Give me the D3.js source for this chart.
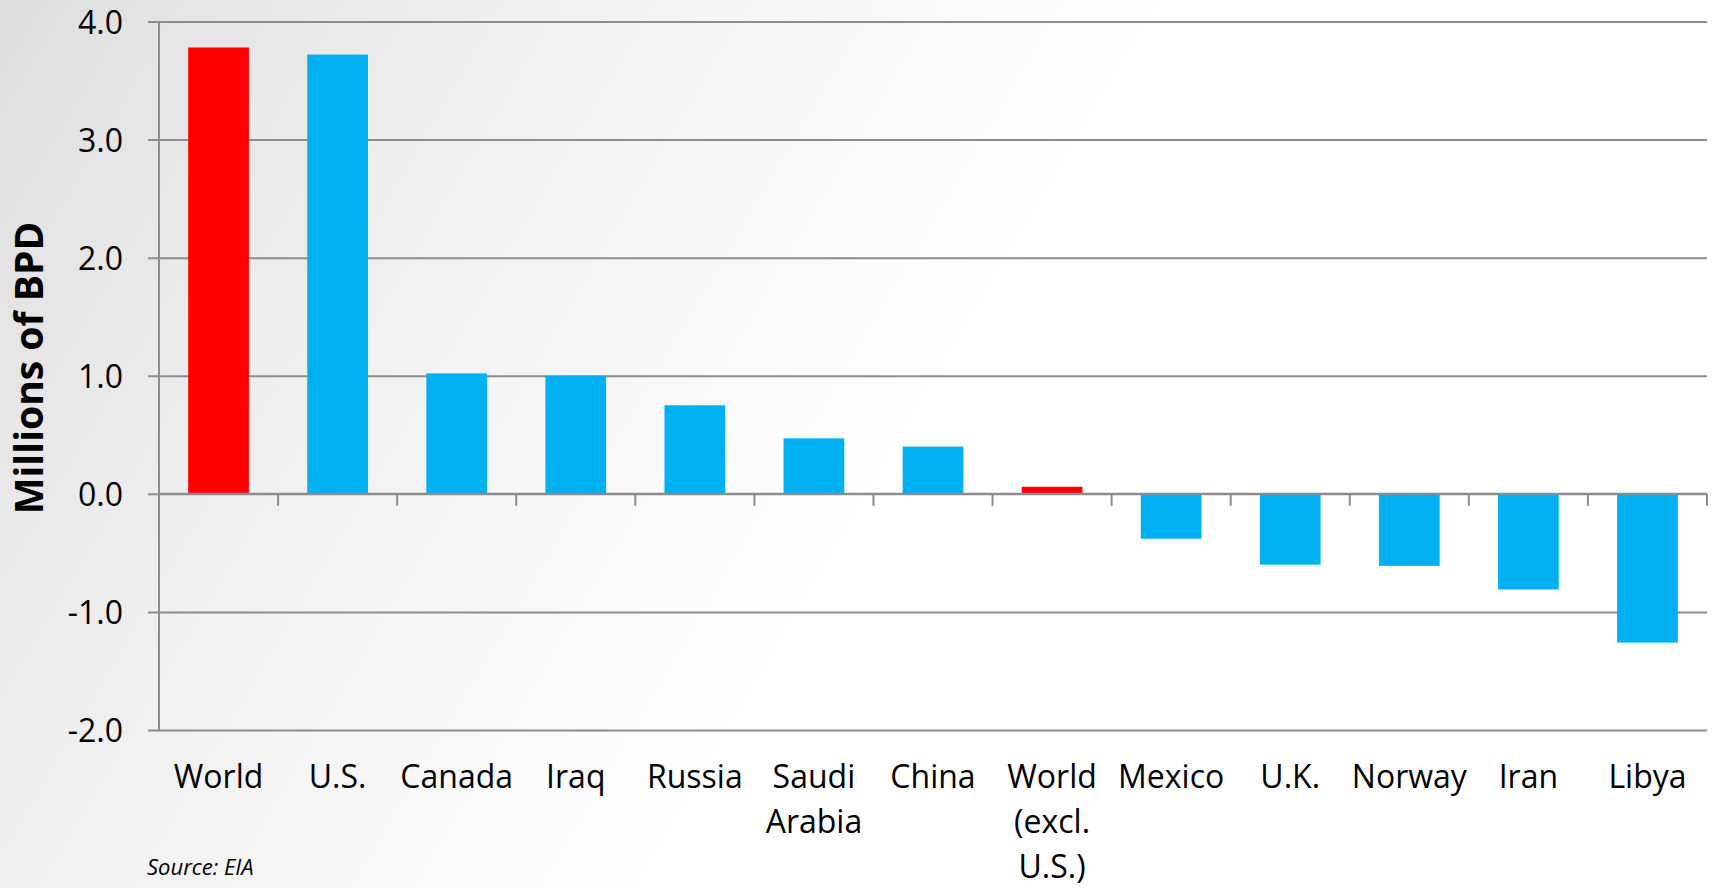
<!DOCTYPE html>
<html>
<head>
<meta charset="utf-8">
<script src="https://cdn.jsdelivr.net/npm/d3@7"></script>
<style>
  html, body { margin: 0; padding: 0; background: #fff; }
  svg { display: block; }
</style>
</head>
<body>
<svg id="chart" width="1715" height="888"></svg>
<script>
// Change in crude oil production, millions of barrels per day
const categories = ["World", "U.S.", "Canada", "Iraq", "Russia", "Saudi Arabia", "China",
                    "World (excl. U.S.)", "Mexico", "U.K.", "Norway", "Iran", "Libya"];
const values = [3.78, 3.72, 1.02, 1.00, 0.75, 0.47, 0.40, 0.06, -0.38, -0.60, -0.61, -0.81, -1.26];
const highlighted = ["World", "World (excl. U.S.)"];
const yTicks = [-2, -1, 0, 1, 2, 3, 4];
const yTitle = "Millions of BPD";
const sourceNote = "Source: EIA";

const W = 1715, H = 888;
const margin = { left: 159, right: 8, top: 21.5, bottom: 158 };
const font = "'Open Sans', 'DejaVu Sans', sans-serif";
const gridColor = "#8c8c8c";

const svg = d3.select("#chart");

// soft diagonal backdrop
const defs = svg.append("defs");
const grad = defs.append("linearGradient")
  .attr("id", "bg").attr("gradientUnits", "userSpaceOnUse")
  .attr("x1", 0).attr("y1", 0).attr("x2", 1100).attr("y2", 650);
grad.append("stop").attr("offset", 0).attr("stop-color", "#dedede");
grad.append("stop").attr("offset", 0.35).attr("stop-color", "#efefef");
grad.append("stop").attr("offset", 0.8).attr("stop-color", "#ffffff");
grad.append("stop").attr("offset", 1).attr("stop-color", "#ffffff");
svg.append("rect").attr("width", W).attr("height", H).attr("fill", "url(#bg)");

const x = d3.scaleBand()
  .domain(categories)
  .range([margin.left, W - margin.right])
  .padding(0);

const y = d3.scaleLinear()
  .domain([d3.min(yTicks), d3.max(yTicks)])
  .range([H - margin.bottom, margin.top]);

// one decimal, plain hyphen for negatives
const fmt = d => d.toFixed(1);

// horizontal gridlines with outside ticks
const yAxis = d3.axisLeft(y)
  .tickValues(yTicks)
  .tickSize(-(W - margin.right - margin.left))
  .tickSizeOuter(0)
  .tickFormat(fmt);

const gy = svg.append("g")
  .attr("transform", `translate(${margin.left},0)`)
  .call(yAxis);
gy.select(".domain").remove();
gy.selectAll(".tick line")
  .attr("x1", -11)
  .attr("stroke", gridColor).attr("stroke-width", 2);
gy.selectAll(".tick text")
  .attr("x", -36)
  .attr("dy", "0.36em")
  .attr("font-family", font).attr("font-size", 32).attr("fill", "#000");

// vertical axis line
svg.append("line")
  .attr("x1", margin.left).attr("x2", margin.left)
  .attr("y1", y(d3.max(yTicks))).attr("y2", y(d3.min(yTicks)))
  .attr("stroke", gridColor).attr("stroke-width", 2);

// bars
const barFrac = 0.51;
const bw = x.bandwidth() * barFrac;
svg.append("g").selectAll("rect")
  .data(categories.map((c, i) => ({ c, v: values[i] })))
  .join("rect")
  .attr("x", d => x(d.c) + (x.bandwidth() - bw) / 2)
  .attr("width", bw)
  .attr("y", d => y(Math.max(0, d.v)))
  .attr("height", d => Math.abs(y(d.v) - y(0)))
  .attr("fill", d => highlighted.includes(d.c) ? "#ff0000" : "#00b0f0");

// category axis along zero with ticks at band boundaries
const y0 = y(0);
svg.append("line")
  .attr("x1", margin.left).attr("x2", W - margin.right)
  .attr("y1", y0).attr("y2", y0)
  .attr("stroke", gridColor).attr("stroke-width", 2);
svg.append("g").selectAll("line")
  .data(categories.slice(1).map(c => x(c)).concat([W - margin.right]))
  .join("line")
  .attr("x1", d => d).attr("x2", d => d)
  .attr("y1", y0).attr("y2", y0 + 12)
  .attr("stroke", gridColor).attr("stroke-width", 2);

// category labels, wrapped on spaces
const labels = svg.append("g")
  .attr("font-family", font).attr("font-size", 32).attr("fill", "#000")
  .attr("text-anchor", "middle");
categories.forEach(c => {
  const t = labels.append("text")
    .attr("x", x(c) + x.bandwidth() / 2)
    .attr("y", 788);
  c.split(" ").forEach((word, i) => {
    t.append("tspan")
      .attr("x", x(c) + x.bandwidth() / 2)
      .attr("dy", i === 0 ? 0 : 45)
      .text(word);
  });
});

// y-axis title
svg.append("text")
  .attr("transform", "translate(43,368) rotate(-90)")
  .attr("text-anchor", "middle")
  .attr("font-family", font).attr("font-weight", 700).attr("font-size", 39)
  .attr("fill", "#000")
  .text(yTitle);

// source note
svg.append("text")
  .attr("x", 147).attr("y", 875)
  .attr("font-family", font).attr("font-style", "italic").attr("font-size", 22)
  .attr("fill", "#000")
  .text(sourceNote);
</script>
</body>
</html>
